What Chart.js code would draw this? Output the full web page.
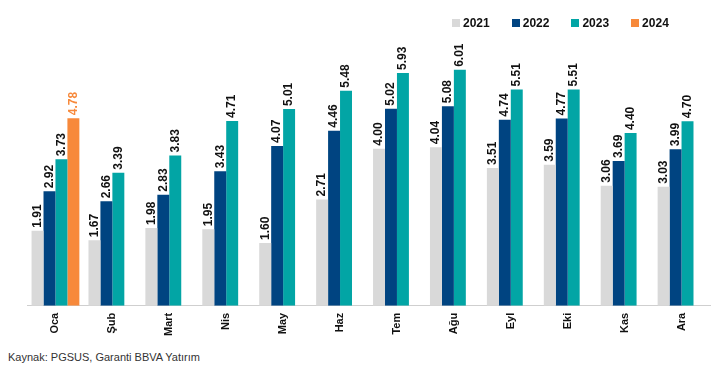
<!DOCTYPE html>
<html lang="tr">
<head>
<meta charset="UTF-8">
<title>PGSUS</title>
<script src="https://cdn.jsdelivr.net/npm/chart.js"></script>
<style>
  body { margin: 0; background: #fff; font-family: "Liberation Sans", Arial, sans-serif; }
  .wrap { position: relative; width: 718px; height: 345px; }
  .legend { position: absolute; left: 452px; top: 16px; display: flex; gap: 22px; font-size: 12px; font-weight: bold; color: #111; }
  .legend span { display: flex; align-items: center; }
  .legend i { display: inline-block; width: 8px; height: 8px; margin-right: 3px; }
  .source { position: absolute; left: 8px; top: 351px; font-size: 11px; color: #333; }
</style>
</head>
<body>
<div class="wrap"><canvas id="chart"></canvas><div class="legend" id="legend"></div></div>
<div class="source">Kaynak: PGSUS, Garanti BBVA Yatırım</div>
<script>
// months
const months = ["Oca", "Şub", "Mart", "Nis", "May", "Haz", "Tem", "Ağu", "Eyl", "Eki", "Kas", "Ara"];
const years = ["2021", "2022", "2023", "2024"];
const colors = ["#d9d9d9", "#004481", "#02a5a5", "#f7893b"];
const y2021 = [1.91, 1.67, 1.98, 1.95, 1.60, 2.71, 4.00, 4.04, 3.51, 3.59, 3.06, 3.03];
const y2022 = [2.92, 2.66, 2.83, 3.43, 4.07, 4.46, 5.02, 5.08, 4.74, 4.77, 3.69, 3.99];
const y2023 = [3.73, 3.39, 3.83, 4.71, 5.01, 5.48, 5.93, 6.01, 5.51, 5.51, 4.40, 4.70];
const y2024 = [4.78, null, null, null, null, null, null, null, null, null, null, null];
const series = [y2021, y2022, y2023, y2024];

// value labels above each bar, rotated
const barLabels = {
  id: "barLabels",
  afterDatasetsDraw(chart) {
    const ctx = chart.ctx;
    ctx.save();
    ctx.font = "bold 12px 'Liberation Sans', Arial, sans-serif";
    ctx.textAlign = "left";
    ctx.textBaseline = "middle";
    chart.data.datasets.forEach((ds, i) => {
      const meta = chart.getDatasetMeta(i);
      meta.data.forEach((bar, j) => {
        const v = ds.data[j];
        if (v == null) return;
        ctx.save();
        ctx.translate(bar.x, bar.y - 3);
        ctx.rotate(-Math.PI / 2);
        ctx.fillStyle = i === 3 ? "#f7893b" : "#111";
        ctx.fillText(v.toFixed(2), 0, 0);
        ctx.restore();
      });
    });
    ctx.restore();
  }
};

// simple html legend
const legend = document.getElementById("legend");
years.forEach((y, i) => {
  const s = document.createElement("span");
  s.innerHTML = `<i style="background:${colors[i]}"></i>${y}`;
  legend.appendChild(s);
});

new Chart(document.getElementById("chart"), {
  type: "bar",
  data: {
    labels: months,
    datasets: years.map((y, i) => ({ label: y, data: series[i], backgroundColor: colors[i] }))
  },
  options: {
    responsive: true,
    maintainAspectRatio: false,
    animation: false,
    layout: { padding: { left: 27, right: 8, top: 31, bottom: 2 } },
    datasets: { bar: { barPercentage: 1, categoryPercentage: 0.84 } },
    plugins: {
      legend: { display: false },
      tooltip: { enabled: false }
    },
    scales: {
      x: {
        grid: { display: false, drawTicks: false },
        border: { display: true, color: "#cfcfcf", width: 1 },
        ticks: {
          minRotation: 90,
          maxRotation: 90,
          padding: 7,
          color: "#111",
          font: { family: "'Liberation Sans', Arial, sans-serif", size: 11, weight: "bold" }
        }
      },
      y: {
        display: false,
        min: 0,
        max: 7
      }
    }
  },
  plugins: [barLabels]
});
</script>
</body>
</html>
